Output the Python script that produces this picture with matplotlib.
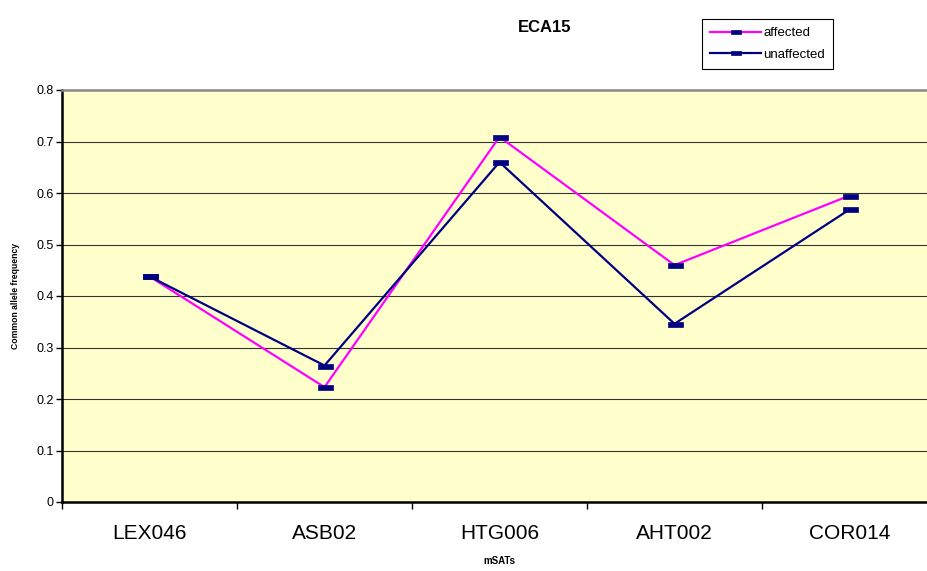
import matplotlib
matplotlib.use('Agg')
import matplotlib.pyplot as plt
from matplotlib.path import Path

plt.rcParams['font.family'] = ['Liberation Sans', 'DejaVu Sans']

# data
markers_names = ['LEX046', 'ASB02', 'HTG006', 'AHT002', 'COR014']
affected = [0.438, 0.223, 0.709, 0.460, 0.595]
unaffected = [0.438, 0.265, 0.660, 0.346, 0.568]
yticks = [0, 0.1, 0.2, 0.3, 0.4, 0.5, 0.6, 0.7, 0.8]

pink = '#FF00FF'
navy = '#000080'

# flat rectangle marker, like the excel dash
dash = Path([(-1.5, -0.5), (1.5, -0.5), (1.5, 0.5), (-1.5, 0.5), (-1.5, -0.5)],
            [Path.MOVETO, Path.LINETO, Path.LINETO, Path.LINETO, Path.CLOSEPOLY])

fig = plt.figure(figsize=(9.28, 5.71), dpi=100)
ax = fig.add_axes([62/928, 69/571, 875/928, 412/571])  # runs off the right edge like the original
ax.set_facecolor('#FFFFCC')

x = list(range(len(markers_names)))
ax.plot(x, affected, color=pink, lw=1.6, marker=dash, ms=10.8,
        mfc=navy, mec=navy, mew=0.5, label='affected', zorder=3)
ax.plot(x, unaffected, color=navy, lw=1.6, marker=dash, ms=10.8,
        mfc=navy, mec=navy, mew=0.5, label='unaffected', zorder=3)

ax.set_ylim(0, 0.8)
ax.set_xlim(-0.5, len(markers_names) - 0.5)
ax.set_yticks(yticks)
ax.set_yticklabels([('%g' % v) for v in yticks], fontsize=9)
for v in yticks[1:-1]:
    ax.axhline(v, color='#333333', lw=0.8, zorder=1)

# category boundaries get the tick marks, names sit between them
ax.set_xticks([i - 0.5 for i in range(len(markers_names) + 1)])
ax.set_xticklabels([])
ax.set_xticks(x, minor=True)
ax.set_xticklabels(markers_names, minor=True, fontsize=15)
ax.tick_params(axis='x', which='major', length=5, width=1, direction='out')
ax.tick_params(axis='x', which='minor', length=0, pad=16)
ax.tick_params(axis='y', length=4, width=1, direction='out', pad=2)

ax.spines['left'].set_linewidth(1.8)
ax.spines['bottom'].set_linewidth(1.8)
ax.spines['top'].set_color('#888888')
ax.spines['top'].set_linewidth(1.8)
ax.spines['right'].set_visible(False)

ax.set_ylabel('Common allele frequency', fontsize=6.2, fontweight='bold', labelpad=12)
fig.text(499/928, 1 - 561/571, 'mSATs', fontsize=7, fontweight='bold', ha='center', va='center')
fig.text(545/928, 1 - 28/571, 'ECA15', fontsize=12, fontweight='bold', ha='center', va='center')

leg = fig.legend(loc='upper left', bbox_to_anchor=(702/928, 1 - 19/571), fontsize=9.5,
                 handlelength=3.9, handletextpad=0.15, labelspacing=0.72, borderpad=0.6,
                 borderaxespad=0, fancybox=False, framealpha=1, edgecolor='black')
leg.get_frame().set_linewidth(0.8)
for h in leg.legend_handles:
    h.set_markersize(7.5)

fig.savefig('out.png', dpi=100)
